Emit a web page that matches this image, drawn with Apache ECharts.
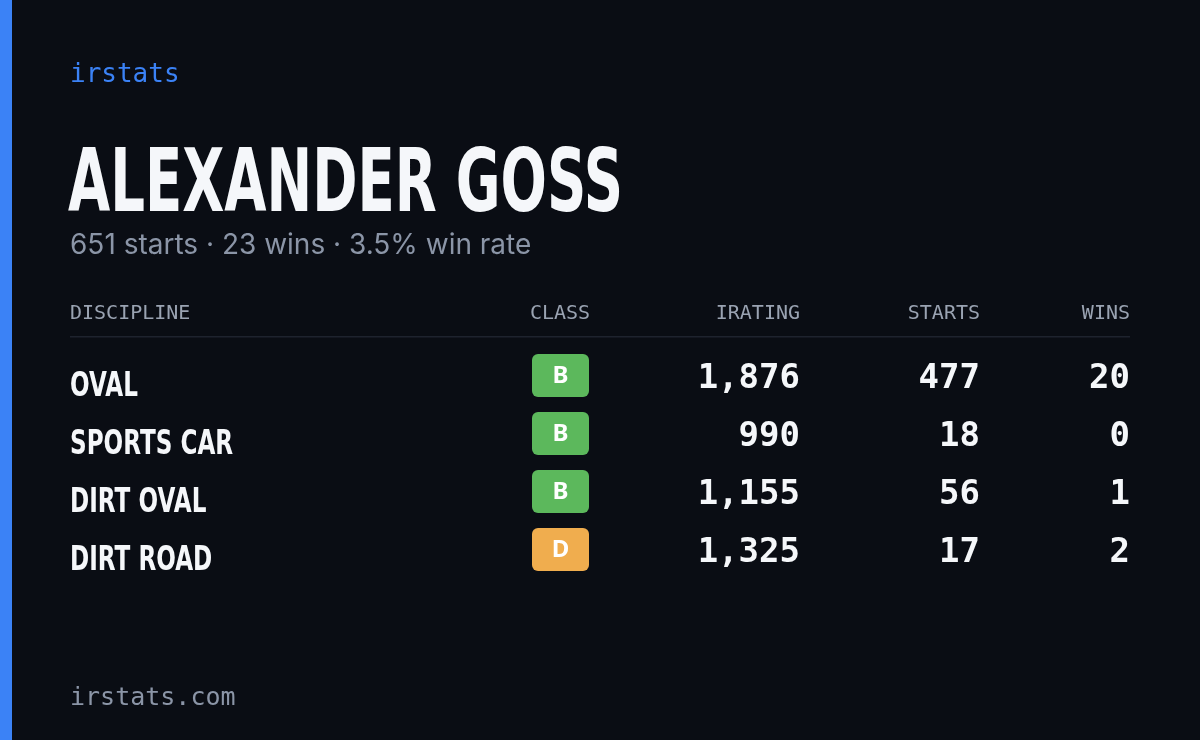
<!DOCTYPE html>
<html><head><meta charset="utf-8">
<script src="https://cdn.jsdelivr.net/npm/echarts@6/dist/echarts.min.js"></script>
<style>html,body{margin:0;padding:0;background:#0a0d14}#c{width:1200px;height:740px}</style>
</head><body><div id="c"></div>
<script>
const disciplines = ["OVAL","SPORTS CAR","DIRT OVAL","DIRT ROAD"];
const classes = ["B","B","B","D"];
const iratings = [1876, 990, 1155, 1325];
const starts = [477, 18, 56, 17];
const wins = [20, 0, 1, 2];
const headers = ["DISCIPLINE","CLASS","IRATING","STARTS","WINS"];
const driver = "ALEXANDER GOSS";
const summary = {starts: 651, wins: 23, winRate: "3.5%"};

const classColor = {B:"#5cb85c", D:"#f0ad4e"};
const mono = "'DejaVu Sans Mono', monospace";
const cond = "'DejaVu Sans', sans-serif";
const fmt = v => v.toLocaleString('en-US');
const squeezed = (x, y, sx, text, font) => ({type:'group', x:x, y:y, scaleX:sx, children:[
  {type:'text', x:0, y:0, style:{text:text, font:font, fill:'#f5f7fa', verticalAlign:'middle'}}]});

const g = [
  {type:'rect', shape:{x:0,y:0,width:12,height:740}, style:{fill:'#3b82f6'}},
  {type:'text', x:70, y:75, style:{text:'irstats', font:"26px "+mono, fill:'#3b82f6', verticalAlign:'middle'}},
  squeezed(68, 188, 0.62, driver, "bold 88px "+cond),
  {type:'text', x:70, y:246, style:{text:`${summary.starts} starts · ${summary.wins} wins · ${summary.winRate} win rate`, font:"28px Inter, 'Noto Sans', sans-serif", fill:'#8b95a7', verticalAlign:'middle'}},
  {type:'rect', shape:{x:70,y:336,width:1060,height:1.5}, style:{fill:'#1e232e'}},
  {type:'text', x:70, y:698, style:{text:'irstats.com', font:"25px "+mono, fill:'#8b95a7', verticalAlign:'middle'}}
];
const hx = [[70,'left'],[560,'center'],[800,'right'],[980,'right'],[1130,'right']];
headers.forEach((h,i)=>g.push({type:'text', x:hx[i][0], y:314, style:{text:h, font:"500 20px "+mono, fill:'#9aa3b2', align:hx[i][1], verticalAlign:'middle'}}));
disciplines.forEach((d,i)=>{
  const y = 377 + i*58;
  g.push(squeezed(70, y+10, 0.68, d, "bold 34px "+cond));
  g.push({type:'rect', shape:{x:532,y:y-23,width:57,height:43,r:6}, style:{fill:classColor[classes[i]]}});
  g.push({type:'text', x:560.5, y:y-1, style:{text:classes[i], font:"bold 24px 'Noto Sans', sans-serif", fill:'#fff', align:'center', verticalAlign:'middle'}});
  [[fmt(iratings[i]),800],[String(starts[i]),980],[String(wins[i]),1130]].forEach(([t,x])=>
    g.push({type:'text', x:x, y:y+2, style:{text:t, font:"bold 34px "+mono, fill:'#f5f7fa', align:'right', verticalAlign:'middle'}}));
});
const chart = echarts.init(document.getElementById('c'));
chart.setOption({backgroundColor:'#0a0d14', graphic:g});
</script></body></html>
